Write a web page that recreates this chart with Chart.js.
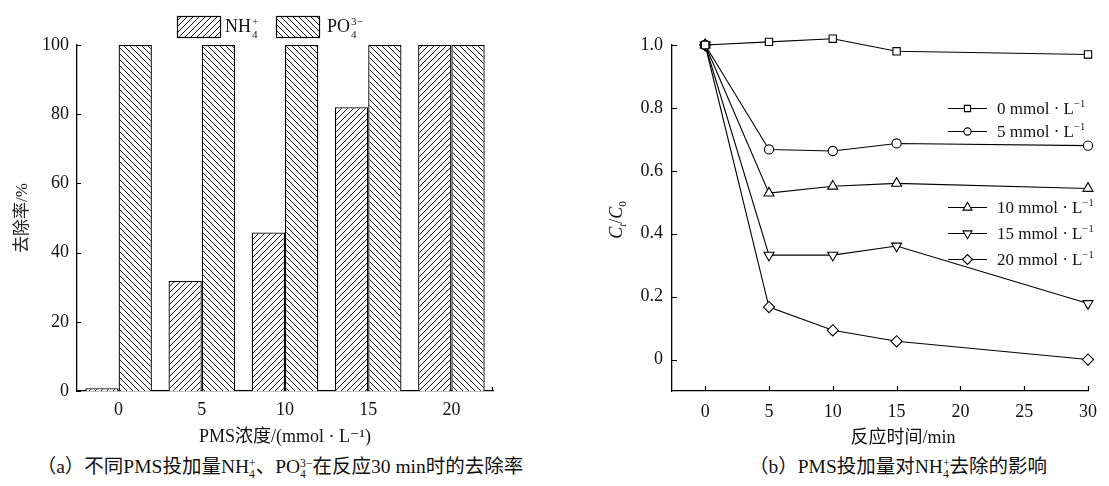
<!DOCTYPE html>
<html>
<head>
<meta charset="utf-8">
<script src="https://cdn.jsdelivr.net/npm/chart.js@4.4.1/dist/chart.umd.min.js"></script>
<style>
  html, body { margin: 0; padding: 0; background: #fff; }
  body { width: 1109px; height: 486px; overflow: hidden; position: relative;
         font-family: "Liberation Serif", "DejaVu Serif", "Noto Sans CJK SC", serif; color: #111; }
  #ca { position: absolute; left: 0; top: 0; }
  #cb { position: absolute; left: 560px; top: 0; }
  .cap { position: absolute; top: 455px; width: 600px; text-align: center; font-size: 19.5px;
         line-height: 24px; white-space: nowrap; }
  .st { display: inline-flex; flex-direction: column; font-size: 0.6em; line-height: 0.95;
        vertical-align: 0.55em; text-align: left; }
</style>
</head>
<body>
<canvas id="ca" width="560" height="450"></canvas>
<canvas id="cb" width="549" height="450"></canvas>
<div class="cap" style="left:-20px">（a）不同PMS投加量NH<span class="st"><span>+</span><span>4</span></span>、PO<span class="st"><span>3−</span><span>4</span></span>在反应30 min时的去除率</div>
<div class="cap" style="left:598px">（b）PMS投加量对NH<span class="st"><span>+</span><span>4</span></span>去除的影响</div>
<script>
// ---- (a) removal after 30 min at each PMS dose ----
const concLabels = ['0', '5', '10', '15', '20'];
const nh4Removal = [0.8, 31.8, 45.8, 82.0, 100];
const po4Removal = [100, 100, 100, 100, 100];
const removalTicks = [0, 20, 40, 60, 80, 100];

// ---- (b) Ct/C0 of NH4+ versus reaction time ----
const timeMin = [0, 5, 10, 15, 30];
const ratioDose0 = [1.00, 1.01, 1.02, 0.98, 0.97];
const ratioDose5 = [1.00, 0.668, 0.663, 0.687, 0.680];
const ratioDose10 = [1.00, 0.529, 0.551, 0.560, 0.544];
const ratioDose15 = [1.00, 0.332, 0.332, 0.361, 0.178];
const ratioDose20 = [1.00, 0.167, 0.093, 0.058, 0.000];
const doseNames = ['0', '5', '10', '15', '20'];
const timeTicks = [0, 5, 10, 15, 20, 25, 30];
const ratioTicks = [0, 0.2, 0.4, 0.6, 0.8, 1.0];

const FONT = '"Liberation Serif", "DejaVu Serif", "Noto Sans CJK SC", serif';
const INK = '#111';

// diagonal hatch fill; dir > 0 gives "///", dir < 0 gives "\\\"
function hatch(dir) {
  const s = 6;
  const c = document.createElement('canvas');
  c.width = s; c.height = s;
  const g = c.getContext('2d');
  g.fillStyle = '#fff';
  g.fillRect(0, 0, s, s);
  g.strokeStyle = '#000';
  g.lineWidth = 0.9;
  g.beginPath();
  if (dir > 0) {
    g.moveTo(0, s); g.lineTo(s, 0);
    g.moveTo(-1, 1); g.lineTo(1, -1);
    g.moveTo(s - 1, s + 1); g.lineTo(s + 1, s - 1);
  } else {
    g.moveTo(0, 0); g.lineTo(s, s);
    g.moveTo(-1, s - 1); g.lineTo(1, s + 1);
    g.moveTo(s - 1, -1); g.lineTo(s + 1, 1);
  }
  g.stroke();
  return g.createPattern(c, 'repeat');
}

// text runs with sub/superscripts; y is the visual middle of the main text
function richFont(p, size) {
  const small = p.sub || p.sup || p.stack;
  return (p.italic ? 'italic ' : '') + (small ? size * 0.62 : size) + 'px ' + FONT;
}
function drawRich(ctx, parts, x, y, size, draw) {
  ctx.textBaseline = 'alphabetic';
  ctx.textAlign = 'left';
  const base = y + size * 0.33;
  let cx = x;
  for (const p of parts) {
    ctx.font = richFont(p, size);
    if (p.stack) {
      const w = Math.max(ctx.measureText(p.stack[0]).width, ctx.measureText(p.stack[1]).width);
      if (draw) {
        ctx.fillText(p.stack[0], cx + 1, base - size * 0.4);
        ctx.fillText(p.stack[1], cx + 1, base + size * 0.3);
      }
      cx += w + 1;
    } else {
      const dy = p.sup ? -size * 0.4 : (p.sub ? size * 0.25 : 0);
      if (draw) ctx.fillText(p.t, cx, base + dy);
      cx += ctx.measureText(p.t).width;
    }
  }
  return cx - x;
}

// short tick marks pointing into the plot area
const inwardTicks = {
  id: 'inwardTicks',
  afterDraw(chart, args, o) {
    const ctx = chart.ctx;
    const { left, right, bottom } = chart.chartArea;
    ctx.save();
    ctx.strokeStyle = '#000';
    ctx.lineWidth = 1.2;
    ctx.beginPath();
    if (o.y) {
      const sy = chart.scales.y;
      for (const t of sy.ticks) {
        const py = Math.round(sy.getPixelForValue(t.value)) + 0.5;
        ctx.moveTo(left, py); ctx.lineTo(left + o.len, py);
      }
    }
    if (o.x) {
      const sx = chart.scales.x;
      for (const t of sx.ticks) {
        const px = Math.round(sx.getPixelForValue(t.value)) + 0.5;
        ctx.moveTo(px, bottom); ctx.lineTo(px, bottom - o.len);
      }
    }
    if (o.endTick) {
      ctx.moveTo(right - 0.5, bottom); ctx.lineTo(right - 0.5, bottom - o.len);
    }
    ctx.stroke();
    ctx.restore();
  }
};

// legend boxes for the hatched bars
const hatchLegend = {
  id: 'hatchLegend',
  afterDraw(chart, args, o) {
    const ctx = chart.ctx;
    ctx.save();
    o.items.forEach((it, i) => {
      const ds = chart.data.datasets[i];
      ctx.fillStyle = ds.backgroundColor;
      ctx.fillRect(it.x, o.y, o.w, o.h);
      ctx.strokeStyle = '#000';
      ctx.lineWidth = 1.2;
      ctx.strokeRect(it.x + 0.5, o.y + 0.5, o.w, o.h);
      ctx.fillStyle = INK;
      drawRich(ctx, it.parts, it.textX, o.y + o.h / 2, 18, true);
    });
    ctx.restore();
  }
};

new Chart(document.getElementById('ca'), {
  type: 'bar',
  data: {
    labels: concLabels,
    datasets: [
      { label: 'NH4+', data: nh4Removal, backgroundColor: hatch(1), borderColor: '#000',
        borderWidth: 1.3, barPercentage: 1, categoryPercentage: 0.8 },
      { label: 'PO4 3-', data: po4Removal, backgroundColor: hatch(-1), borderColor: '#000',
        borderWidth: 1.3, barPercentage: 1, categoryPercentage: 0.8 }
    ]
  },
  options: {
    responsive: false, animation: false, devicePixelRatio: 1,
    layout: { padding: { left: 0, right: 67, top: 45, bottom: 0 } },
    plugins: {
      legend: { display: false }, tooltip: { enabled: false },
      inwardTicks: { y: true, len: 4, endTick: true },
      hatchLegend: {
        y: 16, w: 43, h: 21,
        items: [
          { x: 177, textX: 225, parts: [{ t: 'NH' }, { stack: ['+', '4'] }] },
          { x: 276, textX: 327, parts: [{ t: 'PO' }, { stack: ['3−', '4'] }] }
        ]
      }
    },
    scales: {
      x: {
        grid: { display: false, drawTicks: false },
        border: { display: true, color: '#000', width: 1.3 },
        ticks: { color: INK, font: { family: FONT, size: 18 }, padding: 8 },
        title: { display: true, text: 'PMS浓度/(mmol · L⁻¹)', color: INK,
                 font: { family: FONT, size: 18 }, padding: { top: 0, bottom: 2 } },
        afterFit(s) { s.height = 59; }
      },
      y: {
        min: 0, max: 100,
        afterBuildTicks(s) { s.ticks = removalTicks.map(v => ({ value: v })); },
        grid: { display: false, drawTicks: false },
        border: { display: true, color: '#000', width: 1.3 },
        ticks: { color: INK, font: { family: FONT, size: 18 }, padding: 8 },
        title: { display: true, text: '去除率/%', color: '#222',
                 font: { family: FONT, size: 17 }, padding: { top: 12, bottom: 0 } },
        afterFit(s) { s.width = 77; }
      }
    }
  },
  plugins: [inwardTicks, hatchLegend]
});

// ---- (b) ----
const markerStyles = [
  { pointStyle: 'rect', radius: 5.2, legendRadius: 4.4, rotation: 0 },
  { pointStyle: 'circle', radius: 4.6, legendRadius: 3.6, rotation: 0 },
  { pointStyle: 'triangle', radius: 5.8, legendRadius: 5.2, rotation: 0 },
  { pointStyle: 'triangle', radius: 5.8, legendRadius: 5.2, rotation: 180 },
  { pointStyle: 'rectRot', radius: 5.6, legendRadius: 5.0, rotation: 0 }
];
const ratioSeries = [ratioDose0, ratioDose5, ratioDose10, ratioDose15, ratioDose20];

function drawMarker(ctx, st, r, x, y) {
  if (Chart.helpers && Chart.helpers.drawPoint) {
    Chart.helpers.drawPoint(ctx, { pointStyle: st.pointStyle, rotation: st.rotation, radius: r, borderWidth: 1.1 }, x, y);
  } else {
    ctx.beginPath(); ctx.arc(x, y, r, 0, Math.PI * 2); ctx.fill(); ctx.stroke();
  }
}

const curveDecor = {
  id: 'curveDecor',
  afterDraw(chart, args, o) {
    const ctx = chart.ctx;
    ctx.save();
    // axis titles
    ctx.fillStyle = INK;
    const xt = [{ t: '反应时间/min' }];
    const wx = drawRich(ctx, xt, 0, 0, 18, false);
    drawRich(ctx, xt, o.xTitle.x - wx / 2, o.xTitle.y, 18, true);
    const yt = [{ t: 'C', italic: true }, { t: 't', sub: true, italic: true }, { t: '/' },
                { t: 'C', italic: true }, { t: '0', sub: true }];
    ctx.save();
    ctx.translate(o.yTitle.x, o.yTitle.y);
    ctx.rotate(-Math.PI / 2);
    const wy = drawRich(ctx, yt, 0, 0, 18, false);
    drawRich(ctx, yt, -wy / 2, 0, 18, true);
    ctx.restore();
    // legend entries
    chart.data.datasets.forEach((ds, i) => {
      const y = o.legend.rows[i];
      const x0 = o.legend.x;
      ctx.strokeStyle = '#000';
      ctx.lineWidth = 1.1;
      ctx.beginPath();
      ctx.moveTo(x0, y + 0.5); ctx.lineTo(x0 + o.legend.lineLen, y + 0.5);
      ctx.stroke();
      ctx.fillStyle = '#fff';
      drawMarker(ctx, markerStyles[i], markerStyles[i].legendRadius, x0 + o.legend.lineLen / 2, y + 0.5);
      ctx.fillStyle = INK;
      drawRich(ctx, [{ t: doseNames[i] + ' mmol · L' }, { t: '−1', sup: true }],
               x0 + o.legend.lineLen + o.legend.gap, y, 17, true);
    });
    ctx.restore();
  }
};

new Chart(document.getElementById('cb'), {
  type: 'line',
  data: {
    datasets: ratioSeries.map((arr, i) => ({
      label: doseNames[i] + ' mmol·L-1',
      data: timeMin.map((t, j) => ({ x: t, y: arr[j] })),
      borderColor: '#000', borderWidth: 1.1, tension: 0,
      pointStyle: markerStyles[i].pointStyle, pointRotation: markerStyles[i].rotation,
      pointRadius: markerStyles[i].radius, pointBackgroundColor: '#fff',
      pointBorderColor: '#000', pointBorderWidth: 1.1, clip: false
    }))
  },
  options: {
    responsive: false, animation: false, devicePixelRatio: 1,
    layout: { padding: { left: 0, right: 21, top: 45, bottom: 0 } },
    plugins: {
      legend: { display: false }, tooltip: { enabled: false },
      inwardTicks: { x: true, y: true, len: 5 },
      curveDecor: {
        xTitle: { x: 343, y: 437 },
        yTitle: { x: 56, y: 220 },
        legend: { x: 388, lineLen: 39, gap: 10, rows: [108, 131, 207, 233, 259] }
      }
    },
    scales: {
      x: {
        type: 'linear', min: -2.6, max: 30,
        afterBuildTicks(s) { s.ticks = timeTicks.map(v => ({ value: v })); },
        grid: { display: false, drawTicks: false },
        border: { display: true, color: '#000', width: 1.3 },
        ticks: { color: INK, font: { family: FONT, size: 18 }, padding: 10,
                 callback: v => String(v) },
        afterFit(s) { s.height = 59; }
      },
      y: {
        min: -0.1, max: 1.0,
        afterBuildTicks(s) { s.ticks = ratioTicks.map(v => ({ value: v })); },
        grid: { display: false, drawTicks: false },
        border: { display: true, color: '#000', width: 1.3 },
        ticks: { color: INK, font: { family: FONT, size: 18 }, padding: 9,
                 callback: v => (v === 0 ? '0' : v.toFixed(1)) },
        afterFit(s) { s.width = 112; }
      }
    }
  },
  plugins: [inwardTicks, curveDecor]
});
</script>
</body>
</html>
